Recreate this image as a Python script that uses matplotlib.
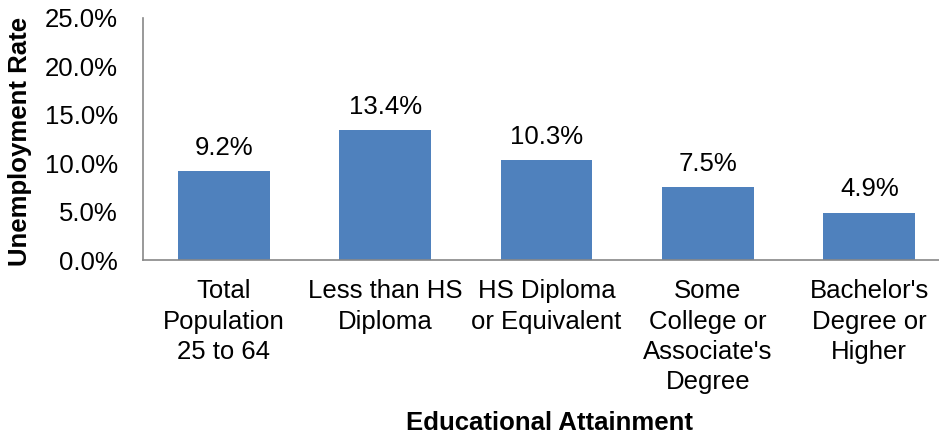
import matplotlib
matplotlib.use("Agg")
import matplotlib.pyplot as plt
from matplotlib.ticker import FuncFormatter

categories = ["Total\nPopulation\n25 to 64", "Less than HS\nDiploma",
              "HS Diploma\nor Equivalent", "Some\nCollege or\nAssociate's\nDegree",
              "Bachelor's\nDegree or\nHigher"]
rates = [9.2, 13.4, 10.3, 7.5, 4.9]
yticks = [0, 5, 10, 15, 20, 25]

plt.rcParams['font.family'] = ['Liberation Sans', 'DejaVu Sans']
FS = 18.5

fig = plt.figure(figsize=(9.39, 4.34), dpi=100)
ax = fig.add_axes([143 / 939, 1 - 260 / 434, 807 / 939, 242 / 434])

x = list(range(len(categories)))
ax.bar(x, rates, width=0.57, color="#4F81BD")
for xi, r in zip(x, rates):
    ax.annotate("%.1f%%" % r, (xi, r), xytext=(0, 8), textcoords="offset points",
                ha="center", va="bottom", fontsize=FS)

ax.set_xlim(-0.5, len(categories) - 0.5)
ax.set_ylim(0, 25)
ax.set_yticks(yticks)
ax.yaxis.set_major_formatter(FuncFormatter(lambda v, p: "%.1f%%" % v))
ax.set_xticks(x)
ax.set_xticklabels(categories, linespacing=1.32)
ax.tick_params(axis="both", length=0, labelsize=FS)
ax.tick_params(axis="y", pad=18)
ax.tick_params(axis="x", pad=14)

for s in ["top", "right"]:
    ax.spines[s].set_visible(False)
for s in ["left", "bottom"]:
    ax.spines[s].set_color("#888888")
    ax.spines[s].set_linewidth(1.2)

fig.text(20 / 939, 1 - 141 / 434, "Unemployment Rate", rotation=90, ha="center", va="center",
         fontsize=FS, fontweight="bold")
fig.text(550 / 939, 1 - 423 / 434, "Educational Attainment", ha="center", va="center",
         fontsize=FS, fontweight="bold")

fig.savefig("out.png", dpi=100)
